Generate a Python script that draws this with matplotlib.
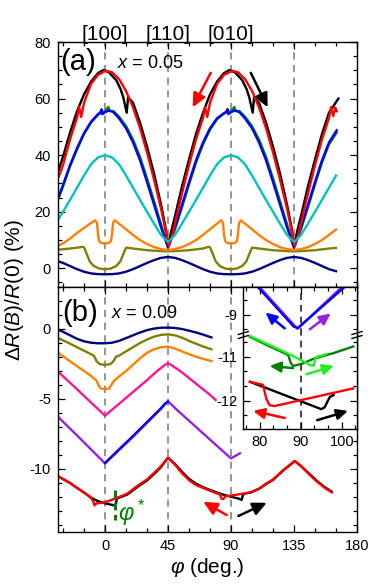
import numpy as np
import matplotlib
matplotlib.use('Agg')
import matplotlib.pyplot as plt
from matplotlib.ticker import MultipleLocator, FixedLocator
from matplotlib.lines import Line2D

plt.rcParams['font.family'] = ['Liberation Sans', 'DejaVu Sans']
plt.rcParams['mathtext.fontset'] = 'custom'
plt.rcParams['mathtext.rm'] = 'Liberation Sans'
plt.rcParams['mathtext.it'] = 'Liberation Sans:italic'
plt.rcParams['mathtext.bf'] = 'Liberation Sans:bold'
plt.rcParams['axes.unicode_minus'] = False

# ---------------- panel (a): x = 0.05 ----------------
PHI_RED_A = [-33,-30,-25,-20,-18.5,-17,-15,-10,-5,0,1.2,5,10,15,20,25,30,35,40,43,45.5,48,50,55,60,65,70,71.5,73,75,80,85,91.2,95,100,105,110,115,120,125,130,133,135.5,138,140,145,150,155,160,161.5,163,164.5,165.5]
RED_A = [32.5,36.5,45.6,53.2,57.0,53.5,58.5,65.2,68.4,69.7,69.8,69.3,66.9,62.7,56.9,49.6,41.0,31.4,21.1,14.0,7.8,11.5,16.0,26.5,36.5,45.6,53.2,57.0,53.5,58.5,65.2,68.4,69.8,69.3,66.9,62.7,56.9,49.6,41.0,31.4,21.1,14.0,7.8,11.5,16.0,26.5,36.5,45.6,53.2,57.0,53.8,56.8,55.5]

PHI_BLK_A = [-33,-30,-25,-20,-15,-10,-5,-1.2,3,8,11,13,15.5,16.5,20,25,30,35,40,43,45,47,50,55,60,65,70,75,80,85,88.8,93,98,101,103,105.5,106.5,110,115,120,125,130,133,135,137,140,145,150,155,160,166.7]
BLK_A = [35.0,39.5,48.0,55.5,61.5,66.0,69.0,70.1,69.2,66.5,63.5,60.5,55.0,60.5,58.5,51.5,43.0,33.5,22.5,15.0,7.8,12.5,18.5,29.0,38.5,47.5,55.0,61.5,66.0,69.0,70.1,69.2,66.5,63.5,60.5,55.0,60.5,58.5,51.5,43.0,33.5,22.5,15.0,7.8,12.5,18.5,29.0,38.5,47.5,55.0,60.0]

PHI_BLU_A = [-33,-30,-25,-20,-15,-10,-5,-3.5,-2.5,-1.8,0,3,6,10,15,20,25,30,35,40,45,50,55,60,65,70,75,80,85,86.5,87.5,88.2,90,93,96,100,105,110,115,120,125,130,135,140,145,150,155,160,165.5]
BLU_A = [25.5,29.5,36.5,42.5,47.8,51.8,54.5,55.0,56.2,54.5,55.2,55.8,55.2,53.0,49.5,44.5,38.2,30.5,22.5,14.5,7.3,14.5,22.5,30.5,38.2,44.5,49.5,53.0,54.8,55.3,56.3,54.5,55.2,55.8,55.2,53.0,49.5,44.5,38.2,30.5,22.5,14.5,7.3,14.5,22.5,30.5,38.2,44.5,48.8]

PHI_GRN_A = [-33,-30,-25,-20,-15,-10,-5,0,2.4,3.2,6,10,15,20,25,30,35,40,45,50,55,60,65,70,75,80,85,90,92.4,93.2,96,100,105,110,115,120,125,130,135,140,145,150,155,160,165.5]
GRN_A = [25.0,29.0,36.0,42.0,47.5,51.5,54.3,55.5,57.0,55.6,55.6,53.6,50.3,45.5,39.4,31.8,23.8,15.6,7.6,13.8,21.6,29.6,37.4,43.8,49.0,52.7,54.8,55.5,57.0,55.6,55.6,53.6,50.3,45.5,39.4,31.8,23.8,15.6,7.6,13.8,21.6,29.6,37.4,43.8,48.0]

PHI_CYN_A = [-33,-30,-25,-20,-15,-10,-5,0,5,10,15,20,25,30,35,40,45,50,55,60,65,70,75,80,85,90,95,100,105,110,115,120,125,130,135,140,145,150,155,160,165]
CYN_A = [17.6,20.0,24.2,28.5,32.8,36.8,39.2,40.0,39.2,36.8,32.8,28.5,24.2,20.0,15.8,11.8,9.3,11.8,15.8,20.0,24.2,28.5,32.8,36.8,39.2,40.0,39.2,36.8,32.8,28.5,24.2,20.0,15.8,11.8,9.3,11.8,15.8,20.0,24.2,28.5,32.8]

PHI_ORG_A = [-33,-30,-25,-20,-15,-10,-7,-5.7,-5,-4.3,-3,0,3,4.3,5,5.7,7,10,15,20,25,30,35,40,45,50,55,60,65,70,75,80,83,84.3,85,85.7,87,90,93,94.3,95,95.7,97,100,105,110,115,120,125,130,135,140,145,150,155,160,165]
ORG_A = [8.1,8.8,10.5,12.5,14.3,16.0,17.0,16.0,12.0,9.8,9.0,8.75,9.0,9.8,12.0,16.0,17.0,15.8,13.8,11.8,10.0,8.6,7.5,6.8,6.5,6.8,7.5,8.6,10.0,11.8,13.8,15.8,17.0,16.0,12.0,9.8,9.0,8.75,9.0,9.8,12.0,16.0,17.0,15.8,13.8,11.8,10.0,8.6,7.5,6.8,6.5,6.8,7.5,8.6,10.0,11.8,13.7]

PHI_OLV_A = [-33,-25,-20,-16,-15,-13,-11,-8,-4,0,4,8,11,13,15,20,30,40,45,50,60,70,74,75,77,79,82,86,90,94,98,101,103,105,110,120,130,135,140,150,160,165]
OLV_A = [6.6,7.0,7.3,7.6,7.4,5.0,2.5,0.8,-0.1,-0.35,-0.1,0.8,2.5,5.0,7.3,7.0,6.4,6.1,6.0,6.1,6.4,7.0,7.6,7.4,5.0,2.5,0.8,-0.1,-0.35,-0.1,0.8,2.5,5.0,7.3,7.0,6.4,6.1,6.0,6.1,6.4,7.0,7.2]

PHI_NAV_A = [-33,-30,-25,-20,-15,-10,-5,0,5,10,15,20,25,30,35,40,45,50,55,60,65,70,75,80,85,90,95,100,105,110,115,120,125,130,135,140,145,150,155,160,165]
NAV_A = [2.4,1.9,0.8,-0.3,-1.2,-1.8,-2.05,-2.1,-2.05,-1.8,-1.2,-0.3,0.8,1.9,2.9,3.7,4.0,3.7,2.9,1.9,0.8,-0.3,-1.2,-1.8,-2.05,-2.1,-2.05,-1.8,-1.2,-0.3,0.8,1.9,2.9,3.7,4.0,3.7,2.9,1.9,0.8,-0.3,-1.0]

# ---------------- panel (b): x = 0.09 ----------------
PHI_NAV_B = [-33,-30,-25,-20,-15,-10,-5,0,5,10,15,20,25,30,35,40,45,50,55,60,65,70,76]
NAV_B = [-0.07,-0.2,-0.45,-0.7,-0.88,-0.98,-1.02,-1.02,-0.98,-0.85,-0.65,-0.45,-0.25,-0.08,0.03,0.09,0.1,0.07,0.0,-0.12,-0.25,-0.4,-0.6]

PHI_OLV_B = [-33,-25,-20,-15,-10,-8,-6,-4,0,4,6,8,10,15,20,25,30,35,40,45,50,55,60,65,70,76]
OLV_B = [-0.67,-1.05,-1.3,-1.55,-1.8,-1.9,-2.3,-2.5,-2.57,-2.5,-2.3,-1.97,-1.9,-1.6,-1.3,-1.0,-0.75,-0.55,-0.42,-0.38,-0.45,-0.62,-0.85,-1.05,-1.25,-1.45]

PHI_ORG_B = [-33,-25,-20,-15,-10,-6,-4.5,-3,0,3,4.5,6,10,15,20,25,30,35,40,45,50,55,60,65,70,76]
ORG_B = [-1.74,-2.3,-2.65,-3.0,-3.35,-3.7,-4.05,-4.25,-4.29,-4.25,-4.0,-3.75,-3.4,-3.0,-2.55,-2.1,-1.7,-1.45,-1.3,-1.26,-1.4,-1.6,-1.8,-1.98,-2.13,-2.29]

PHI_PNK_B = [-33,-20,-10,0,10,20,30,35,40,43,45,47,50,55,60,65,70,75,79]
PNK_B = [-3.1,-4.3,-5.25,-6.19,-5.35,-4.5,-3.65,-3.2,-2.78,-2.55,-2.45,-2.55,-2.75,-3.1,-3.5,-3.9,-4.3,-4.7,-5.07]

PHI_PUR_B = [-33,-20,-10,0,10,20,30,40,43,45,47,50,60,70,80,90,96.4]
PUR_B = [-6.33,-7.6,-8.6,-9.6,-8.65,-7.7,-6.7,-5.7,-5.35,-5.19,-5.35,-5.65,-6.55,-7.45,-8.35,-9.24,-8.88]
PHI_BLU_B = [0,10,20,30,40,43,45]
BLU_B = [-9.57,-8.6,-7.64,-6.65,-5.66,-5.32,-5.17]

PHI_RED_B = [-33,-30,-25,-20,-15,-10,-8.5,-7.5,-6,-3,0,5,10,16,24,30,36,40,45,50,55,60,65,70,75,80,82,83,84.5,86,90,95,100,104,110,115.5,120,127,132,135.5,140,146,152,157,162]
RED_B = [-10.55,-10.72,-11.0,-11.35,-11.68,-12.05,-12.3,-12.6,-12.45,-12.42,-12.38,-12.2,-12.0,-11.75,-11.14,-10.75,-10.19,-9.8,-9.19,-9.7,-10.3,-10.8,-11.15,-11.35,-11.55,-11.75,-11.78,-12.1,-12.15,-11.95,-11.9,-11.82,-11.73,-11.66,-11.4,-11.02,-10.75,-10.1,-9.7,-9.43,-9.8,-10.4,-10.95,-11.35,-11.67]

PHI_BLK_B = [-33,-30,-25,-20,-15,-10,-5,0,5,7.6,8.4,10,16,24,30,36,40,45,50,55,60,65,70,75,80,85,90,95,97.6,98.6,100,104,110,115.5,120,127,132,135.5,140,146,152,157,162]
BLK_B = [-10.55,-10.72,-11.0,-11.35,-11.68,-12.05,-12.3,-12.45,-12.56,-12.64,-12.1,-12.05,-11.82,-11.22,-10.82,-10.27,-9.87,-9.19,-9.65,-10.2,-10.7,-11.05,-11.3,-11.5,-11.68,-11.85,-11.98,-12.1,-12.21,-11.82,-11.75,-11.68,-11.42,-11.05,-10.78,-10.13,-9.73,-9.43,-9.78,-10.35,-10.9,-11.3,-11.62]

PHI_STAR = 7.1
STAR_SPAN = [-11.5, -13.64]

# ---------------- inset ----------------
PHI_BLU_I = [78, 88.3, 89.3, 102.5]
BLU_I = [-8.21, -9.27, -9.30, -8.22]
PHI_PUR_I = [78.5, 89.2, 101.5]
PUR_I = [-8.22, -9.32, -8.24]
PHI_DG_I = [77.6, 82, 86.9, 87.6, 88.1, 90, 93.4, 98, 102.8]
DG_I = [-10.55, -10.75, -10.96, -11.15, -11.21, -11.17, -11.04, -10.92, -10.77]
PHI_LG_I = [77.6, 82, 86.9, 90.1, 92.5, 93.2, 93.6, 94.5, 96]
LG_I = [-10.53, -10.72, -10.93, -11.08, -11.2, -11.2, -11.02, -10.99, -10.95]
PHI_BLK_I = [77.6, 95.0, 95.8, 97.1, 98]
BLK_I = [-11.57, -12.19, -12.15, -11.91, -11.87]
PHI_RED_I = [77.6, 80.8, 81.6, 82.4, 83.6, 102.8]
RED_I = [-11.57, -11.64, -11.95, -12.10, -12.12, -11.72]

# arrows: (start, end, colour)
ARROWS_A = [((75.5, 69.1), (62.6, 56.9), 'red'), ((104.1, 69.1), (116.2, 56.9), 'black')]
ARROWS_B = [((86.9, -13.29), (70.2, -12.34), 'red'), ((95.2, -13.36), (115.5, -12.41), 'black')]
ARROWS_IU = [((86.1, -9.31), (81.4, -8.95), '#0000ff'), ((92.2, -9.33), (97.3, -8.97), '#9a1ee0')]
ARROWS_IL = [((88.1, -11.26), (82.4, -11.21), '#008000'), ((91.4, -11.40), (98.1, -11.21), '#22ee22'),
             ((86.1, -12.39), (78.4, -12.23), 'red'), ((94.0, -12.44), (101.5, -12.23), 'black')]

DIRS = ['[100]', '[110]', '[010]']
DIR_PHI = [0, 45, 90]
XTICKS = [0, 45, 90, 135, 180]

# ---------------- figure ----------------
W, H = 374, 586
fig = plt.figure(figsize=(W / 100, H / 100), dpi=100)

def rect(l, t, r, b):
    return [l / W, 1 - b / H, (r - l) / W, (b - t) / H]

axa = fig.add_axes(rect(58, 42, 357, 287))
axb = fig.add_axes(rect(58, 287, 357, 532))
ins_u = fig.add_axes(rect(243.3, 287, 357, 335))
ins_l = fig.add_axes(rect(243.3, 335, 357, 429))

LW = 1.7
TFS = 10.5

def style(ax):
    ax.tick_params(which='both', direction='in', top=True, right=True, labelsize=TFS, width=0.9)
    ax.tick_params(which='major', length=5)
    ax.tick_params(which='minor', length=3)
    for s in ax.spines.values():
        s.set_linewidth(1.0)

def arrow(ax, s, e, c, ms=15):
    ax.annotate('', xy=e, xytext=s,
                arrowprops=dict(arrowstyle='-|>,head_length=0.55,head_width=0.26', color=c, lw=1.8,
                                shrinkA=0, shrinkB=0, mutation_scale=ms))

# panel a
for ax in (axa, axb):
    ax.set_xlim(-33.6, 180)
    ax.xaxis.set_major_locator(FixedLocator(XTICKS))
    ax.xaxis.set_minor_locator(MultipleLocator(15))
    style(ax)

axa.set_ylim(-6.6, 80)
axa.yaxis.set_major_locator(MultipleLocator(20))
axa.yaxis.set_minor_locator(MultipleLocator(5))
axa.tick_params(labelbottom=False, pad=5)
for p in [0, 45, 90, 135]:
    axa.axvline(p, color='#8c8c8c', ls=(0, (4, 3)), lw=1.3, zorder=1)
axa.plot(PHI_NAV_A, NAV_A, color='#000080', lw=LW)
axa.plot(PHI_OLV_A, OLV_A, color='#808000', lw=LW)
axa.plot(PHI_ORG_A, ORG_A, color='#ff8000', lw=LW)
axa.plot(PHI_GRN_A, GRN_A, color='#008000', lw=LW)
axa.plot(PHI_BLU_A, BLU_A, color='#0000ff', lw=LW)
axa.plot(PHI_BLK_A, BLK_A, color='black', lw=LW)
axa.plot(PHI_RED_A, RED_A, color='#ff0000', lw=LW)
axa.plot(PHI_CYN_A, CYN_A, color='#00c0c0', lw=LW)
for s, e, c in ARROWS_A:
    arrow(axa, s, e, c)
axa.text(0.067, 0.918, '(a)', transform=axa.transAxes, fontsize=21, ha='center', va='center')
axa.text(0.31, 0.914, r'$\mathit{x}$ = 0.05', transform=axa.transAxes, fontsize=13, ha='center', va='center')
for p, t in zip(DIR_PHI, DIRS):
    axa.text(p, 1.03, t, transform=axa.get_xaxis_transform(), fontsize=15, ha='center', va='center')

# panel b
axb.set_ylim(-14.5, 3)
axb.yaxis.set_major_locator(MultipleLocator(5))
axb.yaxis.set_minor_locator(MultipleLocator(1))
axb.tick_params(pad=5)
for p in [0, 45, 90]:
    axb.axvline(p, color='#8c8c8c', ls=(0, (4, 3)), lw=1.3, zorder=1)
axb.plot(PHI_NAV_B, NAV_B, color='#000080', lw=LW)
axb.plot(PHI_OLV_B, OLV_B, color='#808000', lw=LW)
axb.plot(PHI_ORG_B, ORG_B, color='#ff8000', lw=LW)
axb.plot(PHI_PNK_B, PNK_B, color='#ff1493', lw=LW)
axb.plot(PHI_PUR_B, PUR_B, color='#9a1ee0', lw=LW)
axb.plot(PHI_BLU_B, BLU_B, color='#0000ff', lw=LW)
axb.plot(PHI_BLK_B, BLK_B, color='black', lw=LW)
axb.plot(PHI_RED_B, RED_B, color='#ff0000', lw=LW)
axb.plot([PHI_STAR, PHI_STAR], STAR_SPAN, color='#008000', lw=2.2, ls=(0, (2.5, 1.5)))
for s, e, c in ARROWS_B:
    arrow(axb, s, e, c)
axb.text(0.075, 0.893, '(b)', transform=axb.transAxes, fontsize=21, ha='center', va='center')
axb.text(0.29, 0.893, r'$\mathit{x}$ = 0.09', transform=axb.transAxes, fontsize=13, ha='center', va='center')
axb.text(9.3, -13.1, r'$\varphi^*$', color='#008000', fontsize=17, ha='left', va='center')
axb.set_xlabel(r'$\varphi$ (deg.)', fontsize=15, labelpad=2)

fig.text(15 / W, 1 - 290 / H, r'$\Delta\mathit{R}(\mathit{B})/\mathit{R}(0)$ (%)', rotation=90,
         fontsize=15, ha='center', va='center')

# inset
for ax in (ins_u, ins_l):
    ax.set_xlim(76, 103.7)
    ax.xaxis.set_major_locator(MultipleLocator(10))
    ax.xaxis.set_minor_locator(MultipleLocator(10 / 3))
    ax.yaxis.set_minor_locator(MultipleLocator(1 / 3))
    style(ax)
    ax.axvline(90, color='#222222', ls=(0, (4, 3)), lw=1.2, zorder=1)
    ax.tick_params(labelsize=TFS, pad=4)
ins_u.set_ylim(-9.46, -8.37)
ins_u.yaxis.set_major_locator(FixedLocator([-9]))
ins_u.yaxis.set_major_formatter(plt.FuncFormatter(lambda v, p: '%d' % round(v)))
ins_u.spines['bottom'].set_visible(False)
ins_u.tick_params(which='both', bottom=False, labelbottom=False)
ins_l.set_ylim(-12.64, -10.51)
ins_l.yaxis.set_major_locator(FixedLocator([-11, -12]))
ins_l.yaxis.set_major_formatter(plt.FuncFormatter(lambda v, p: '%d' % round(v)))
ins_l.spines['top'].set_visible(False)
ins_l.tick_params(which='both', top=False)

ins_u.plot(PHI_PUR_I, PUR_I, color='#9a1ee0', lw=LW)
ins_u.plot(PHI_BLU_I, BLU_I, color='#0000ff', lw=LW)
ins_l.plot(PHI_DG_I, DG_I, color='#008000', lw=LW)
ins_l.plot(PHI_LG_I, LG_I, color='#22ee22', lw=LW)
ins_l.plot(PHI_BLK_I, BLK_I, color='black', lw=LW)
ins_l.plot(PHI_RED_I, RED_I, color='#ff0000', lw=LW)
for s, e, c in ARROWS_IU:
    arrow(ins_u, s, e, c, ms=12)
for s, e, c in ARROWS_IL:
    arrow(ins_l, s, e, c, ms=12)

# break marks
yb = 335
for xb in (243.3, 357):
    for off in (-2.0, 2.0):
        fig.add_artist(Line2D([(xb - 5) / W, (xb + 5) / W],
                              [1 - (yb + off + 1.5) / H, 1 - (yb + off - 1.5) / H],
                              color='black', lw=1.0))

fig.savefig('out.png', dpi=100)
